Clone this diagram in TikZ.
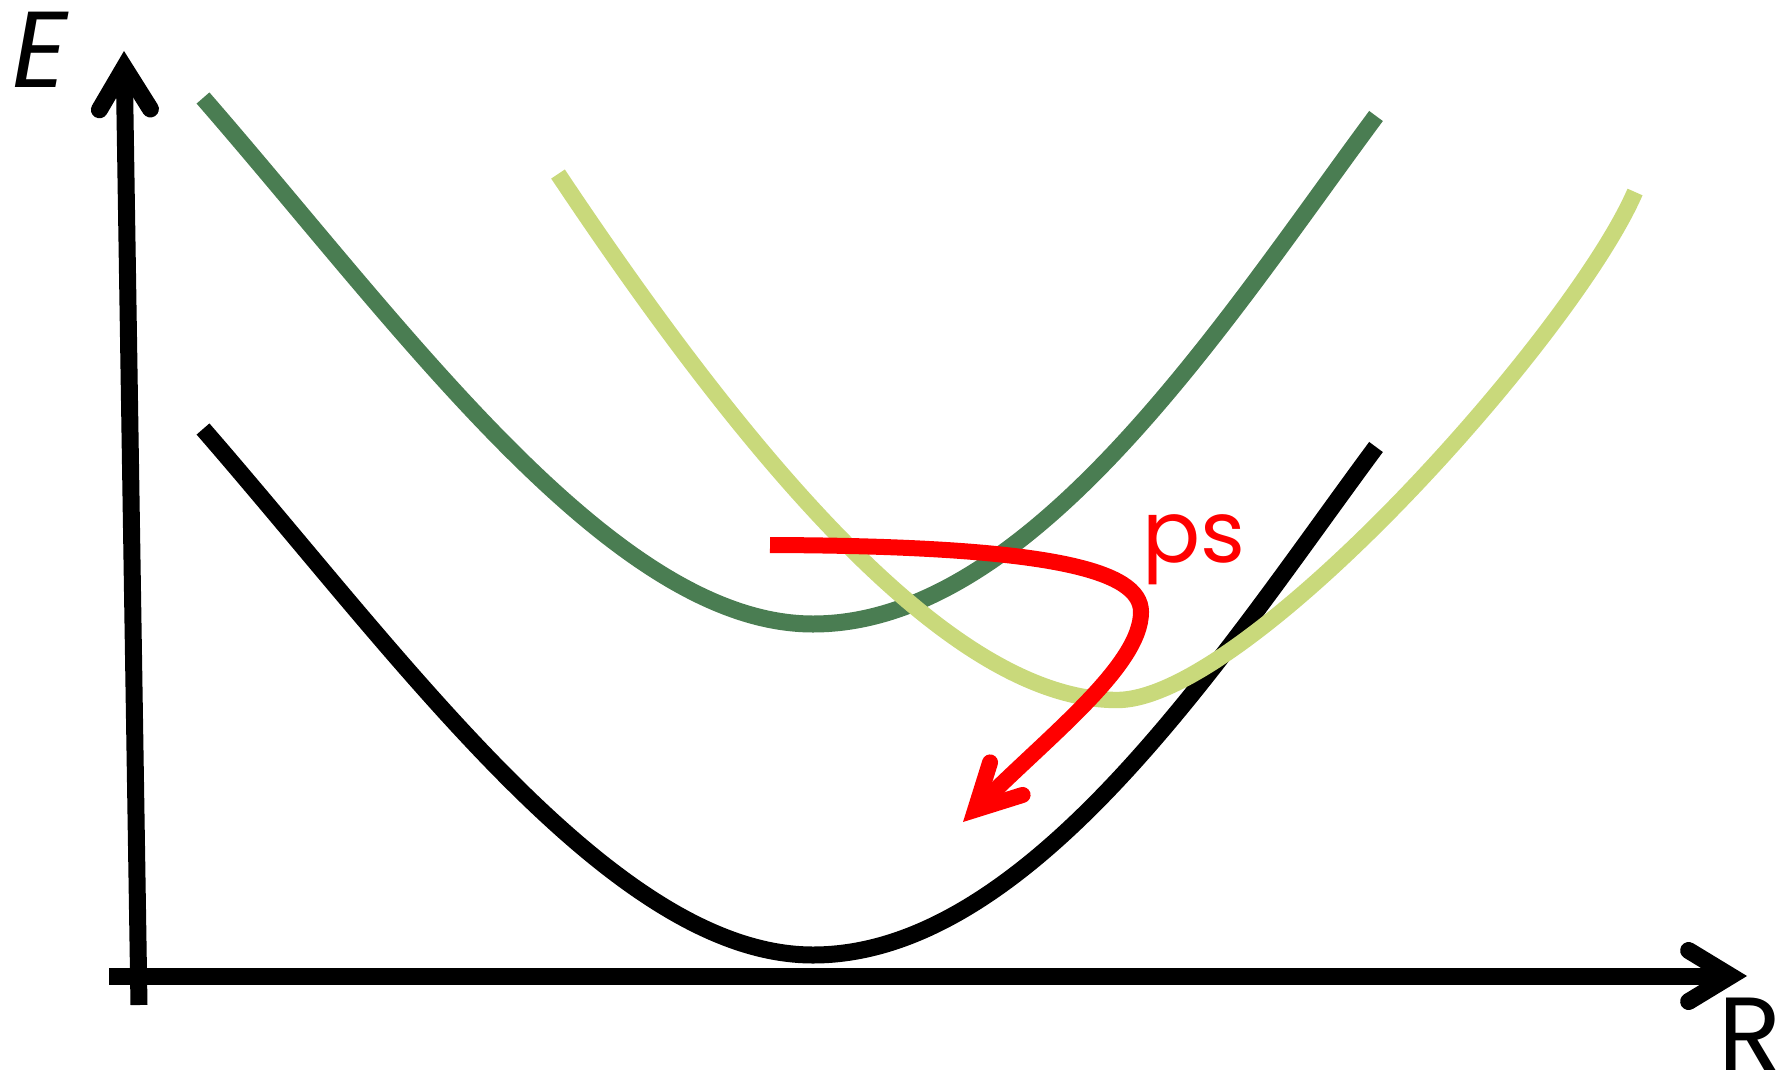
\documentclass[tikz,border=0pt]{standalone}
\usepackage{fontspec}
\setmainfont{Poppins}
\usetikzlibrary{arrows.meta}
\definecolor{dgreen}{HTML}{4A7D52}
\definecolor{lgreen}{HTML}{C9D97B}
\definecolor{arrred}{HTML}{FF0000}
\begin{document}
\begin{tikzpicture}[x=0.5pt,y=-0.5pt,
  curveline/.style={line width=8.5pt},
  axisline/.style={line width=8.5pt,
    -{Straight Barb[length=21pt,width=25.5pt,line cap=round,line join=miter]}},
  redline/.style={arrred,line width=8pt,
    -{Straight Barb[length=22pt,width=23pt,line cap=round,line join=miter]}},
  lbl/.style={inner sep=0pt}]
\useasboundingbox (0,0) rectangle (1791,1081);
% axes
\coordinate (ybot) at (139,1005);
\coordinate (ytop) at (124,51);
\coordinate (xl) at (109,976);
\coordinate (xr) at (1747,976);
\draw[axisline] (ybot) -- (ytop);
\draw[axisline] (xl) -- (xr);
% dark green curve
\coordinate (g0) at (203,98);
\coordinate (g1) at (813,624);
\coordinate (g2) at (1376,116);
\draw[curveline,dgreen] (g0) .. controls (403,328) and (613,624) .. (g1)
  .. controls (1033,624) and (1227,317) .. (g2);
% black curve
\coordinate (b0) at (203,429);
\coordinate (b1) at (813,955);
\coordinate (b2) at (1376,447);
\draw[curveline,black] (b0) .. controls (403,659) and (613,955) .. (b1)
  .. controls (1033,955) and (1227,648) .. (b2);
% light green curve
\coordinate (l0) at (558,174);
\coordinate (l1) at (1117,700);
\coordinate (l2) at (1635,192);
\draw[line width=8.2pt,lgreen] (l0) .. controls (780,507) and (967,700) .. (l1)
  .. controls (1247,700) and (1573,335) .. (l2);
% red arrow
\coordinate (r0) at (770,545);
\coordinate (r1) at (1141,612);
\coordinate (r2) at (963,822);
\draw[redline] (r0) .. controls (1050,546) and (1141,570) .. (r1)
  .. controls (1141,665) and (1050,735) .. (r2);
% labels
\node[lbl,anchor=base west,font=\itshape\fontsize{54}{54}\selectfont] (E) at (12,88) {E};
\node[lbl,anchor=base east,font=\fontsize{52}{52}\selectfont] (R) at (1782,1070) {R};
\node[lbl,anchor=base west,arrred,font=\fontsize{43}{43}\selectfont] (ps) at (1142,562) {ps};
\end{tikzpicture}
\end{document}
